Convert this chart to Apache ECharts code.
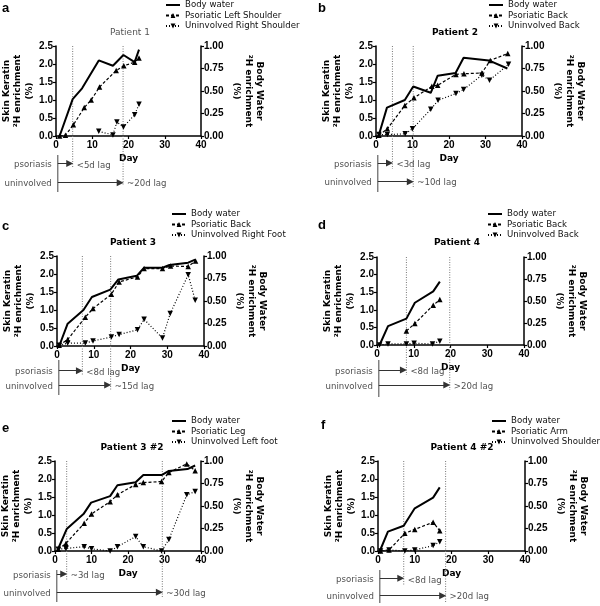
<!DOCTYPE html>
<html><head><meta charset="utf-8">
<script src="https://cdn.jsdelivr.net/npm/echarts@6/dist/echarts.min.js"></script>
<style>html,body{margin:0;padding:0;background:#fff}#c{width:600px;height:606px}</style>
</head><body><div id="c"></div>
<script>
// ---------- data ----------
const xTicks = [0, 10, 20, 30, 40];
const leftTicks = [0, 0.5, 1.0, 1.5, 2.0, 2.5];
const rightTicks = [0, 0.25, 0.5, 0.75, 1.0];

const panelLetters = ['a', 'b', 'c', 'd', 'e', 'f'];
const panelTitles = ['Patient 1', 'Patient 2', 'Patient 3', 'Patient 4', 'Patient 3 #2', 'Patient 4 #2'];
const bodyWaterName = 'Body water';
const psoriaticNames = ['Psoriatic Left Shoulder', 'Psoriatic Back', 'Psoriatic Back', 'Psoriatic Back', 'Psoriatic Leg', 'Psoriatic Arm'];
const uninvolvedNames = ['Uninvolved Right Shoulder', 'Uninvolved Back', 'Uninvolved Right Foot', 'Uninvolved Back', 'Uninvolved Left foot', 'Uninvolved Shoulder'];
const rowLabels = ['psoriasis', 'uninvolved'];
const lagStart = 0.5;
const psoriasisLag = [4.6, 4.5, 6.9, 8.0, 3.2, 7.0];
const uninvolvedLag = [18.5, 10.2, 14.6, 19.8, 29.4, 18.4];
const psoriasisLagText = ['<5d lag', '<3d lag', '<8d lag', '<8d lag', '~3d lag', '<8d lag'];
const uninvolvedLagText = ['~20d lag', '~10d lag', '~15d lag', '>20d lag', '~30d lag', '>20d lag'];
const leftAxisName = 'Skin Keratin\n²H enrichment\n(%)';
const rightAxisName = 'Body Water\n²H enrichment\n(%)';
const xAxisName = 'Day';

// [day, value]; body water on the right axis (%), skin keratin on the left axis (%)
const bodyWaterA = [[1,0],[4.6,0.41],[7.2,0.53],[11.8,0.84],[15.7,0.78],[18.6,0.9],[21.7,0.82],[22.9,0.96]];
const psoriaticA = [[1,0],[2.6,0.02],[4.8,0.31],[7.8,0.79],[9.7,1.0],[12,1.36],[16.6,1.82],[18.7,1.95],[21.7,2.05],[22.9,2.17]];
const uninvolvedA = [[11.8,0.13],[15.7,0.03],[16.8,0.39],[18.6,0.25],[21.7,0.59],[22.9,0.88]];

const bodyWaterB = [[0.7,0],[3,0.315],[7.9,0.40],[10.2,0.55],[15,0.48],[16.9,0.67],[21.8,0.70],[24,0.87],[30.9,0.84],[36,0.75]];
const psoriaticB = [[0.8,0.02],[3.1,0.2],[7.9,0.85],[10.4,1.06],[15.3,1.38],[16.9,1.41],[21.9,1.71],[24.1,1.73],[29,1.75],[31.3,2.1],[36.1,2.29]];
const uninvolvedB = [[0.8,0.04],[3.1,0.04],[8,0.06],[10,0.2],[15,0.74],[17,0.99],[21.9,1.18],[24,1.29],[29,1.69],[31.1,1.55],[36.3,1.99]];

const bodyWaterC = [[0.6,0],[2.9,0.248],[7.2,0.40],[9.5,0.544],[14.5,0.626],[16.7,0.74],[21.7,0.78],[23.7,0.87],[28.7,0.87],[30.6,0.9],[35.7,0.926],[37.6,0.96]];
const psoriaticC = [[0.6,0.02],[2.9,0.18],[7.7,0.8],[9.8,1.04],[14.8,1.44],[16.9,1.78],[21.9,1.92],[23.7,2.15],[28.7,2.15],[30.9,2.22],[35.7,2.21],[37.7,2.36]];
const uninvolvedC = [[0.6,0.02],[2.9,0.08],[7.7,0.08],[9.8,0.14],[14.8,0.25],[16.9,0.32],[21.9,0.45],[23.7,0.74],[28.7,0.22],[30.8,0.9],[35.7,1.98],[37.6,1.27]];

const bodyWaterD = [[0.7,0],[3,0.215],[8,0.30],[10.3,0.48],[15.3,0.61],[17.1,0.72]];
const psoriaticD = [[8,0.40],[10.3,0.61],[15.3,1.13],[17.1,1.29]];
const uninvolvedD = [[0.7,0],[3,0.03],[8,0.03],[10.1,0.05],[15.1,0.03],[17.1,0.11]];

const bodyWaterE = [[0.6,0],[3.2,0.244],[7.8,0.41],[9.9,0.537],[15.1,0.61],[17.1,0.73],[22.1,0.763],[24.2,0.844],[29.2,0.844],[31.2,0.89],[36.3,0.91],[38.4,0.95]];
const psoriaticE = [[0.9,0.05],[3,0.21],[8,0.77],[10,1.03],[15.1,1.37],[17.1,1.56],[22.1,1.85],[24.2,1.9],[29.2,1.93],[31.2,2.18],[36.1,2.42],[38.4,2.23]];
const uninvolvedE = [[0.9,0.05],[3,0.07],[8,0.12],[10,0.06],[15.1,0],[17.1,0.12],[22.1,0.4],[24.2,0.12],[29.2,0],[31.2,0.32],[36.1,1.56],[38.4,1.65]];

const bodyWaterF = [[0.5,0],[2.7,0.215],[7,0.28],[10,0.474],[15,0.593],[16.8,0.707]];
const psoriaticF = [[0.7,0],[3,0.03],[7.3,0.49],[10,0.6],[15,0.8],[16.8,0.56]];
const uninvolvedF = [[0.7,0],[3,0.03],[7.3,0],[10,0.03],[15,0.15],[16.8,0.26]];

const bodyWater = [bodyWaterA, bodyWaterB, bodyWaterC, bodyWaterD, bodyWaterE, bodyWaterF];
const psoriatic = [psoriaticA, psoriaticB, psoriaticC, psoriaticD, psoriaticE, psoriaticF];
const uninvolved = [uninvolvedA, uninvolvedB, uninvolvedC, uninvolvedD, uninvolvedE, uninvolvedF];

// ---------- layout (pixels) ----------
const layout = [
  {l:56,  w:145, t:46,  h:90, solid:[155,192], pso:163.5, uni:182.7, psoEnd:168, uniEnd:186, legend:[165,0],   title:[130,33],   letter:[2,9]},
  {l:376, w:146, t:46,  h:90, solid:[155,192], pso:163,   uni:181.7, psoEnd:169, uniEnd:187, legend:[488,0],   title:[455,33],   letter:[318,9]},
  {l:57,  w:147, t:256, h:90, solid:[360,395], pso:370.7, uni:385,   psoEnd:376, uniEnd:390, legend:[171,209], title:[133,243],  letter:[2,227]},
  {l:377, w:147, t:257, h:88, solid:[360,397], pso:370,   uni:385,   psoEnd:375, uniEnd:390, legend:[487,209], title:[457,243],  letter:[318,226]},
  {l:55,  w:146, t:461, h:90, solid:[570,602], pso:574,   uni:592.3, psoEnd:580, uniEnd:597, legend:[171,416], title:[132,448],  letter:[2,429]},
  {l:378, w:147, t:461, h:90, solid:[570,603], pso:578.3, uni:595.7, psoEnd:585, uniEnd:602, legend:[491,416], title:[462,448],  letter:[321,426]}
];

const BOLD = 'Liberation Sans';
const NORM = 'DejaVu Sans';
const grids = [], xAxes = [], yAxes = [], series = [], legends = [], graphics = [];

const axisCommon = {
  axisLine: {show: true, onZero: false, lineStyle: {color: '#000', width: 1.5}},
  axisTick: {show: true, inside: false, length: 3, lineStyle: {color: '#000', width: 1.2}},
  splitLine: {show: false},
  axisLabel: {color: '#000', fontFamily: BOLD, fontWeight: 'bold', fontSize: 10, margin: 3},
  nameTextStyle: {color: '#000', fontFamily: NORM, fontWeight: 'bold', fontSize: 9, lineHeight: 11.5}
};

for (let i = 0; i < 6; i++) {
  const g = layout[i];
  const annH = g.solid[1] - g.t;
  grids.push({left: g.l, top: g.t, width: g.w, height: g.h, outerBoundsMode: 'none'});
  grids.push({left: g.l, top: g.t, width: g.w, height: annH, outerBoundsMode: 'none'});

  xAxes.push(Object.assign({}, axisCommon, {
    gridIndex: 2 * i, type: 'value', min: xTicks[0], max: xTicks[xTicks.length - 1],
    interval: xTicks[1] - xTicks[0], position: 'bottom',
    name: xAxisName, nameLocation: 'middle', nameGap: 17,
    axisLabel: Object.assign({}, axisCommon.axisLabel, {margin: 4})
  }));
  xAxes.push({gridIndex: 2 * i + 1, type: 'value', min: xTicks[0], max: xTicks[xTicks.length - 1], show: false});

  yAxes.push(Object.assign({}, axisCommon, {
    gridIndex: 2 * i, type: 'value', position: 'left',
    min: leftTicks[0], max: leftTicks[leftTicks.length - 1], interval: leftTicks[1] - leftTicks[0],
    name: leftAxisName, nameLocation: 'middle', nameGap: 15, nameRotate: 90,
    axisLabel: Object.assign({}, axisCommon.axisLabel, {formatter: v => v.toFixed(1)})
  }));
  yAxes.push(Object.assign({}, axisCommon, {
    gridIndex: 2 * i, type: 'value', position: 'right',
    min: rightTicks[0], max: rightTicks[rightTicks.length - 1], interval: rightTicks[1] - rightTicks[0],
    name: rightAxisName, nameLocation: 'middle', nameGap: 30, nameRotate: -90,
    axisLabel: Object.assign({}, axisCommon.axisLabel, {formatter: v => v.toFixed(2)})
  }));
  yAxes.push({gridIndex: 2 * i + 1, type: 'value', min: 0, max: annH, inverse: true, show: false});

  const xi = 2 * i, yl = 3 * i, yr = 3 * i + 1, xa = 2 * i + 1, ya = 3 * i + 2;

  // annotation: dotted lag lines
  series.push({type: 'line', xAxisIndex: xa, yAxisIndex: ya, silent: true, symbol: 'none', z: 1,
    data: [[psoriasisLag[i], 0], [psoriasisLag[i], g.psoEnd - g.t]],
    lineStyle: {color: '#777', width: 1, type: [1, 1.5]}});
  series.push({type: 'line', xAxisIndex: xa, yAxisIndex: ya, silent: true, symbol: 'none', z: 1,
    data: [[uninvolvedLag[i], 0], [uninvolvedLag[i], g.uniEnd - g.t]],
    lineStyle: {color: '#777', width: 1, type: [1, 1.5]}});
  // start vertical
  series.push({type: 'line', xAxisIndex: xa, yAxisIndex: ya, silent: true, symbol: 'none', z: 1,
    data: [[lagStart, g.solid[0] - g.t], [lagStart, g.solid[1] - g.t]],
    lineStyle: {color: '#444', width: 1}});
  // arrows
  series.push({type: 'lines', coordinateSystem: 'cartesian2d', xAxisIndex: xa, yAxisIndex: ya, silent: true, z: 2,
    symbol: ['none', 'triangle'], symbolSize: 7,
    lineStyle: {color: '#333', width: 1, opacity: 1, curveness: 0},
    data: [
      {coords: [[lagStart, g.pso - g.t], [psoriasisLag[i] - 0.8, g.pso - g.t]]},
      {coords: [[lagStart, g.uni - g.t], [uninvolvedLag[i] - 0.8, g.uni - g.t]]}
    ]});
  // annotation texts
  const txt = {color: '#222', fontFamily: NORM, fontSize: 8.6};
  series.push({type: 'scatter', xAxisIndex: xa, yAxisIndex: ya, silent: true, symbolSize: 0, z: 2,
    data: [
      {value: [lagStart, g.pso - g.t + 1.5], label: Object.assign({show: true, position: 'left', distance: 6, formatter: rowLabels[0]}, txt)},
      {value: [lagStart, g.uni - g.t + 1.5], label: Object.assign({show: true, position: 'left', distance: 6, formatter: rowLabels[1]}, txt)},
      {value: [psoriasisLag[i], g.pso - g.t + 2], label: Object.assign({show: true, position: 'right', distance: 4, formatter: psoriasisLagText[i]}, txt)},
      {value: [uninvolvedLag[i], g.uni - g.t + 1.5], label: Object.assign({show: true, position: 'right', distance: 4, formatter: uninvolvedLagText[i]}, txt)}
    ]});

  // data series
  series.push({type: 'line', name: bodyWaterName, xAxisIndex: xi, yAxisIndex: yr, data: bodyWater[i], z: 4,
    symbol: 'none', lineStyle: {color: '#000', width: 2}, itemStyle: {color: '#000'}});
  series.push({type: 'line', name: psoriaticNames[i], xAxisIndex: xi, yAxisIndex: yl, data: psoriatic[i], z: 4,
    symbol: 'triangle', symbolSize: 5.5, lineStyle: {color: '#000', width: 1.2, type: [3, 2]}, itemStyle: {color: '#000'}});
  series.push({type: 'line', name: uninvolvedNames[i], xAxisIndex: xi, yAxisIndex: yl, data: uninvolved[i], z: 4,
    symbol: 'triangle', symbolRotate: 180, symbolSize: 5.5, lineStyle: {color: '#000', width: 1.2, type: [1, 2]}, itemStyle: {color: '#000'}});

  legends.push({orient: 'vertical', left: g.legend[0], top: g.legend[1], padding: 0,
    itemWidth: 14, itemHeight: 6, itemGap: 0.5, selectedMode: false,
    data: [
      {name: bodyWaterName, itemStyle: {opacity: 0, color: 'rgba(0,0,0,0)', borderWidth: 0}},
      psoriaticNames[i], uninvolvedNames[i]
    ],
    textStyle: {color: '#111', fontFamily: NORM, fontSize: 8.6, lineHeight: 10}});

  graphics.push({type: 'text', left: g.letter[0], top: g.letter[1] - 7,
    style: {text: panelLetters[i], fill: '#000', font: 'bold 13px "Liberation Sans"'}});
  graphics.push({type: 'text', x: g.title[0], y: g.title[1],
    style: {text: panelTitles[i], fill: i === 0 ? '#555' : '#000', textAlign: 'center', textVerticalAlign: 'middle',
      font: (i === 0 ? 'normal ' : 'bold ') + '9px "DejaVu Sans"'}});
}

const chart = echarts.init(document.getElementById('c'), null, {renderer: 'canvas'});
chart.setOption({
  animation: false,
  backgroundColor: '#fff',
  grid: grids, xAxis: xAxes, yAxis: yAxes, series: series, legend: legends,
  graphic: graphics
});
</script></body></html>
